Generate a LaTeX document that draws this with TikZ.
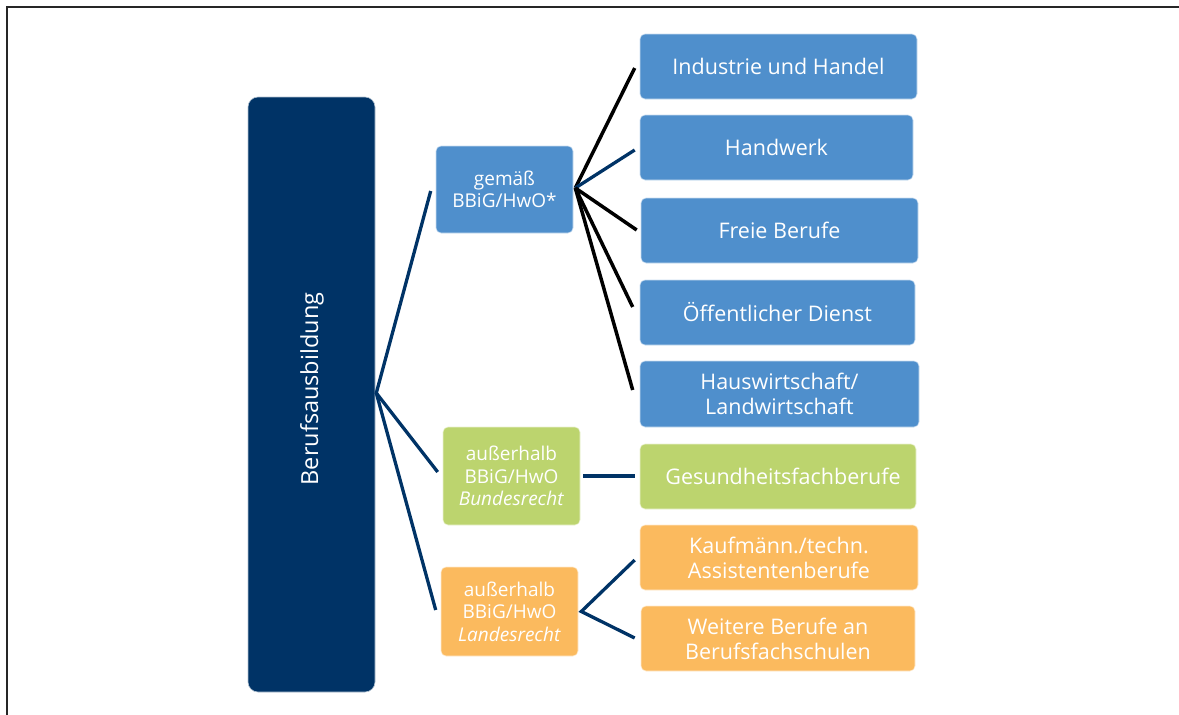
\documentclass[tikz,border=0pt]{standalone}
\usepackage{fontspec}
\setmainfont{Open Sans}
\usetikzlibrary{calc}
\definecolor{navy}{RGB}{0,51,102}
\definecolor{bblue}{RGB}{79,143,204}
\definecolor{bgreen}{RGB}{188,212,110}
\definecolor{borange}{RGB}{251,186,94}
\begin{document}
\begin{tikzpicture}[x=1pt,y=-1pt,
  box/.style={rectangle, rounded corners=5pt, draw=white!70!#1, line width=0.6pt, fill=#1, text=white, align=center, inner sep=0pt},
  bigtxt/.style={font=\fontsize{21.5}{25}\selectfont},
  smalltxt/.style={font=\fontsize{19}{22.5}\selectfont},
  conn/.style={line width=3.3pt, draw=navy},
  bconn/.style={line width=3.5pt, draw=black}]
\useasboundingbox (0,0) rectangle (1179,715);
\draw[line width=1.3pt, black!85] (7,715) -- (7,7) -- (1179,7);

\node[box=navy, rounded corners=10pt, minimum width=127pt, minimum height=595pt] (root) at (311.5,394.5) {};
\node[rotate=90, text=white, font=\fontsize{23.5}{27}\selectfont] (roottxt) at (312,389) {Berufsausbildung};

\node[box=bblue, smalltxt, minimum width=137pt, minimum height=87pt] (gem) at (504.5,189.5) {gemäß\\BBiG/HwO*};
\node[box=bgreen, smalltxt, minimum width=137pt, minimum height=98pt] (bund) at (511.5,476) {außerhalb\\BBiG/HwO\\\textit{Bundesrecht}};
\node[box=borange, smalltxt, minimum width=137pt, minimum height=89pt] (land) at (509.5,611.5) {außerhalb\\BBiG/HwO\\\textit{Landesrecht}};

\node[box=bblue, bigtxt, minimum width=277pt, minimum height=65pt] (r1) at (778.5,66.5) {Industrie und Handel};
\node[box=bblue, bigtxt, minimum width=273pt, minimum height=65pt] (r2) at (776.5,147.5) {Handwerk};
\node[box=bblue, bigtxt, minimum width=277pt, minimum height=65pt] (r3) at (779.5,230.5) {Freie Berufe};
\node[box=bblue, bigtxt, minimum width=275pt, minimum height=65pt] (r4) at (777.5,312.5) {Öffentlicher Dienst};
\node[box=bblue, bigtxt, minimum width=279pt, minimum height=66pt] (r5) at (779.5,394) {Hauswirtschaft/\\Landwirtschaft};
\node[box=bgreen, bigtxt, minimum width=276pt, minimum height=65pt] (r6) at (778,476.5) {\hspace*{10pt}Gesundheitsfachberufe};
\node[box=borange, bigtxt, minimum width=278pt, minimum height=65pt] (r7) at (779,557.5) {Kaufmänn./techn.\\Assistentenberufe};
\node[box=borange, bigtxt, minimum width=274pt, minimum height=65pt] (r8) at (778,638.5) {Weitere Berufe an\\Berufsfachschulen};

\coordinate (hub) at ($(root.east)+(1,-1.5)$);
\coordinate (ghub) at ($(gem.east)+(2,-1.5)$);
\coordinate (lhub) at ($(land.east)+(3,0)$);

\draw[conn] ($(gem.west)+(-5,1.5)$) -- (hub) -- ($(bund.west)+(-5,-4)$);
\draw[conn] (hub) -- ($(land.west)+(-5,-1.5)$);
\draw[conn] ($(bund.east)+(3,0)$) -- ($(r6.west)+(-5,-0.5)$);
\draw[conn] ($(r7.west)+(-5,2.5)$) -- (lhub) -- ($(r8.west)+(-6,-0.5)$);

\draw[bconn] (ghub) -- ($(r1.west)+(-5,1.5)$);
\draw[conn] (ghub) -- ($(r2.west)+(-5,2.5)$);
\draw[bconn] (ghub) -- ($(r3.west)+(-4,-0.5)$);
\draw[bconn] (ghub) -- ($(r4.west)+(-7,-5.5)$);
\draw[bconn] (ghub) -- ($(r5.west)+(-7,-4)$);
\end{tikzpicture}
\end{document}
